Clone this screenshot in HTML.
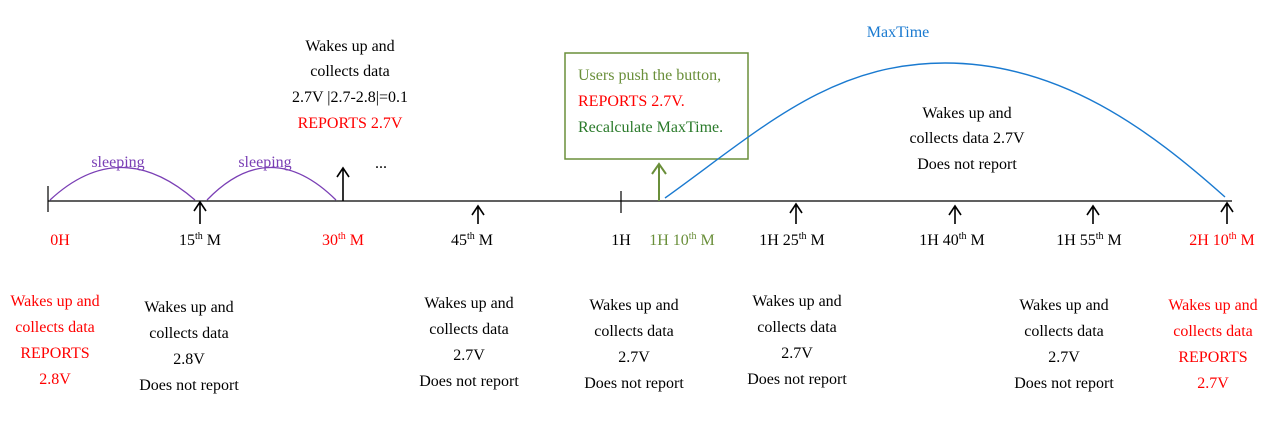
<!DOCTYPE html>
<html><head><meta charset="utf-8"><style>
body{margin:0;background:#fff}
svg text{font-family:"Liberation Serif",serif;font-size:16px}
</style></head><body>
<svg width="1265" height="425" xmlns="http://www.w3.org/2000/svg">
<line x1="48" y1="201" x2="1232" y2="201" stroke="#000" stroke-width="1.2"/>
<line x1="48" y1="186" x2="48" y2="212" stroke="#000" stroke-width="1.2"/>
<line x1="621" y1="191" x2="621" y2="213" stroke="#000" stroke-width="1.2"/>
<path d="M50,200 Q120,135 195,200" fill="none" stroke="#7a3fb5" stroke-width="1.3"/>
<path d="M207,200 Q270,135 336,200" fill="none" stroke="#7a3fb5" stroke-width="1.3"/>
<text x="118" y="167" fill="#7a3fb5" text-anchor="middle">sleeping</text>
<text x="265" y="167" fill="#7a3fb5" text-anchor="middle">sleeping</text>
<g stroke="#000" stroke-width="1.6" fill="none">
<path d="M200,224 V202 M194,211 L200,202 L206,211"/>
<path d="M343,201 V168 M337,177 L343,168 L349,177"/>
<path d="M478,224 V206 M472,215 L478,206 L484,215"/>
<path d="M796,224 V204 M790,213 L796,204 L802,213"/>
<path d="M955,224 V206 M949,215 L955,206 L961,215"/>
<path d="M1093,224 V206 M1087,215 L1093,206 L1099,215"/>
<path d="M1227,224 V203 M1221,212 L1227,203 L1233,212"/>
</g>
<path d="M659,201 V164 M652,174 L659,164 L666,174" stroke="#6a8f3a" stroke-width="2" fill="none"/>
<rect x="565" y="53" width="183" height="106" fill="#fff" stroke="#6a8f3a" stroke-width="1.5"/>
<text x="578" y="80" fill="#6a8f3a">Users push the button,</text>
<text x="578" y="106" fill="#ff0000">REPORTS 2.7V.</text>
<text x="578" y="132" fill="#2a7a2a">Recalculate MaxTime.</text>
<path d="M665,198 C760,130 830,63 945,63 C1060,63 1150,130 1225,197" fill="none" stroke="#1a7ad0" stroke-width="1.4"/>
<text x="898" y="37" fill="#1a7ad0" text-anchor="middle">MaxTime</text>
<text x="375" y="168" fill="#000">...</text>
<g text-anchor="middle">
<text x="350" y="51">Wakes up and</text>
<text x="350" y="76">collects data</text>
<text x="350" y="102">2.7V |2.7-2.8|=0.1</text>
<text x="350" y="128" fill="#ff0000">REPORTS 2.7V</text>
<text x="967" y="118">Wakes up and</text>
<text x="967" y="143">collects data 2.7V</text>
<text x="967" y="169">Does not report</text>
<text x="60" y="245" fill="#ff0000">0H</text>
<text x="200" y="245">15<tspan font-size="10" dy="-6">th</tspan><tspan dy="6"> M</tspan></text>
<text x="343" y="245" fill="#ff0000">30<tspan font-size="10" dy="-6">th</tspan><tspan dy="6"> M</tspan></text>
<text x="472" y="245">45<tspan font-size="10" dy="-6">th</tspan><tspan dy="6"> M</tspan></text>
<text x="621" y="245">1H</text>
<text x="682" y="245" fill="#6a8f3a">1H 10<tspan font-size="10" dy="-6">th</tspan><tspan dy="6"> M</tspan></text>
<text x="792" y="245">1H 25<tspan font-size="10" dy="-6">th</tspan><tspan dy="6"> M</tspan></text>
<text x="952" y="245">1H 40<tspan font-size="10" dy="-6">th</tspan><tspan dy="6"> M</tspan></text>
<text x="1089" y="245">1H 55<tspan font-size="10" dy="-6">th</tspan><tspan dy="6"> M</tspan></text>
<text x="1222" y="245" fill="#ff0000">2H 10<tspan font-size="10" dy="-6">th</tspan><tspan dy="6"> M</tspan></text>
<g fill="#ff0000">
<text x="55" y="306">Wakes up and</text>
<text x="55" y="332">collects data</text>
<text x="55" y="358">REPORTS</text>
<text x="55" y="384">2.8V</text>
</g>
<text x="189" y="312">Wakes up and</text>
<text x="189" y="338">collects data</text>
<text x="189" y="364">2.8V</text>
<text x="189" y="390">Does not report</text>
<text x="469" y="308">Wakes up and</text>
<text x="469" y="334">collects data</text>
<text x="469" y="360">2.7V</text>
<text x="469" y="386">Does not report</text>
<text x="634" y="310">Wakes up and</text>
<text x="634" y="336">collects data</text>
<text x="634" y="362">2.7V</text>
<text x="634" y="388">Does not report</text>
<text x="797" y="306">Wakes up and</text>
<text x="797" y="332">collects data</text>
<text x="797" y="358">2.7V</text>
<text x="797" y="384">Does not report</text>
<text x="1064" y="310">Wakes up and</text>
<text x="1064" y="336">collects data</text>
<text x="1064" y="362">2.7V</text>
<text x="1064" y="388">Does not report</text>
<g fill="#ff0000">
<text x="1213" y="310">Wakes up and</text>
<text x="1213" y="336">collects data</text>
<text x="1213" y="362">REPORTS</text>
<text x="1213" y="388">2.7V</text>
</g>
</g>
</svg>
</body></html>
